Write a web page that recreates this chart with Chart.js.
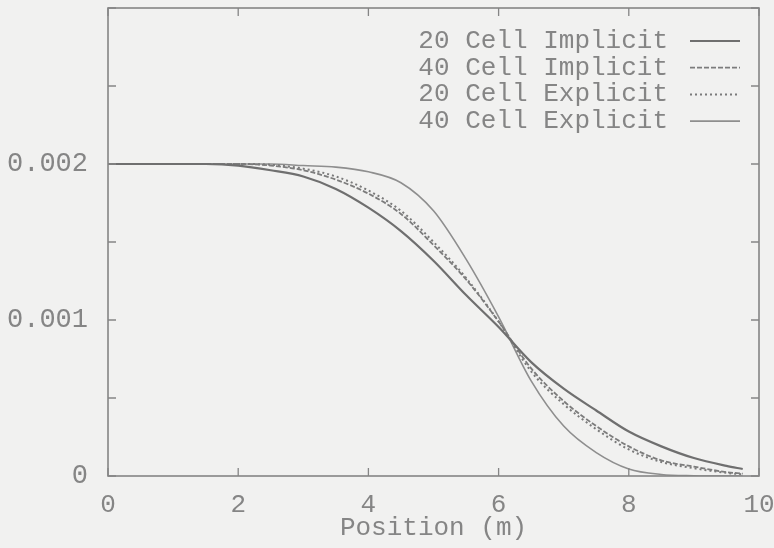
<!DOCTYPE html>
<html lang="en">
<head>
<meta charset="UTF-8">
<title>Position profile</title>
<script src="https://cdn.jsdelivr.net/npm/chart.js"></script>
<style>
  html, body { margin: 0; padding: 0; background: #f1f1f0; }
  #wrap { width: 774px; height: 548px; }
</style>
</head>
<body>
<div id="wrap"><canvas id="c" width="774" height="548"></canvas></div>
<script>
const positions = [0, 0.5, 1, 1.5, 2, 2.5, 3, 3.5, 4, 4.5, 5, 5.5, 6, 6.5, 7, 7.5, 8, 8.5, 9, 9.5, 9.75];

const implicit20 = [0.00200, 0.00200, 0.00200, 0.00200, 0.00199, 0.00196, 0.00192, 0.00184, 0.00172, 0.00157, 0.00138,
                    0.00116, 0.000955, 0.00073, 0.00056, 0.00042, 0.000285, 0.00019, 0.000115, 0.000065, 0.000045];
const implicit40 = [0.00200, 0.00200, 0.00200, 0.00200, 0.00200, 0.00199, 0.00196, 0.00190, 0.00181, 0.00168, 0.00148,
                    0.00126, 0.00099, 0.00069, 0.00048, 0.00032, 0.00019, 0.00010, 0.00006, 0.000025, 0.000015];
const explicit20 = [0.00200, 0.00200, 0.00200, 0.00200, 0.00200, 0.001995, 0.00197, 0.00192, 0.00183, 0.00170, 0.00150,
                    0.00127, 0.00099, 0.00067, 0.00046, 0.00030, 0.00017, 0.00009, 0.00005, 0.00002, 0.00001];
const explicit40 = [0.00200, 0.00200, 0.00200, 0.00200, 0.00200, 0.00200, 0.00199, 0.00198, 0.00195, 0.00188, 0.00170,
                    0.00139, 0.00102, 0.00061, 0.00032, 0.00015, 0.000045, 0.00001, 0.000002, 0, 0];

const seriesLabels = ['20 Cell Implicit', '40 Cell Implicit', '20 Cell Explicit', '40 Cell Explicit'];
const xTicks = [0, 2, 4, 6, 8, 10];
const yLabelled = [0, 0.001, 0.002];

const FONT = '"Liberation Mono", "DejaVu Sans Mono", monospace';
const INK = '#858585';

function pts(ys) {
  return positions.map((x, i) => ({ x: x, y: ys[i] }));
}

// frame, inward ticks and gnuplot-style legend (text then sample)
const gnuplotLook = {
  id: 'gnuplotLook',
  afterDatasetsDraw(chart) {
    const ctx = chart.ctx;
    const a = chart.chartArea;
    const xs = chart.scales.x, ys = chart.scales.y;
    ctx.save();
    ctx.strokeStyle = '#858585';
    ctx.lineWidth = 1.6;
    ctx.strokeRect(a.left, a.top, a.right - a.left, a.bottom - a.top);
    ctx.lineWidth = 1.3;
    ys.ticks.forEach(t => {
      const py = ys.getPixelForValue(t.value);
      ctx.beginPath();
      ctx.moveTo(a.left, py); ctx.lineTo(a.left + 8, py);
      ctx.moveTo(a.right, py); ctx.lineTo(a.right - 8, py);
      ctx.stroke();
    });
    xTicks.forEach(v => {
      const px = xs.getPixelForValue(v);
      ctx.beginPath();
      ctx.moveTo(px, a.bottom); ctx.lineTo(px, a.bottom - 8);
      ctx.moveTo(px, a.top); ctx.lineTo(px, a.top + 8);
      ctx.stroke();
    });

    // legend
    ctx.font = '26px ' + FONT;
    ctx.fillStyle = INK;
    ctx.textAlign = 'right';
    ctx.textBaseline = 'middle';
    const textRight = 668;
    chart.data.datasets.forEach((ds, i) => {
      const y = 41 + i * 26.7;
      ctx.fillText(ds.label, textRight, y);
      ctx.beginPath();
      ctx.strokeStyle = ds.borderColor;
      ctx.lineWidth = ds.borderWidth;
      ctx.setLineDash(ds.borderDash || []);
      ctx.moveTo(690, y);
      ctx.lineTo(740, y);
      ctx.stroke();
    });
    ctx.restore();
  }
};

new Chart(document.getElementById('c'), {
  type: 'line',
  data: {
    datasets: [
      { label: seriesLabels[0], data: pts(implicit20), borderColor: '#6f6f6f', borderWidth: 2.2, borderDash: [] },
      { label: seriesLabels[1], data: pts(implicit40), borderColor: '#7c7c7c', borderWidth: 1.8, borderDash: [5, 2] },
      { label: seriesLabels[2], data: pts(explicit20), borderColor: '#7a7a7a', borderWidth: 2, borderDash: [2, 3] },
      { label: seriesLabels[3], data: pts(explicit40), borderColor: '#8e8e8e', borderWidth: 1.6, borderDash: [] }
    ].map(d => Object.assign(d, { pointRadius: 0, fill: false, cubicInterpolationMode: 'monotone' }))
  },
  options: {
    responsive: false,
    animation: false,
    layout: { padding: { top: 8, right: 15, bottom: 4, left: 0 } },
    plugins: { legend: { display: false }, tooltip: { enabled: false } },
    scales: {
      x: {
        type: 'linear',
        min: 0, max: 10,
        afterBuildTicks: s => { s.ticks = xTicks.map(v => ({ value: v })); },
        afterFit: s => { s.height = 68; s.paddingLeft = 0; s.paddingRight = 0; },
        grid: { display: false },
        border: { display: false },
        ticks: { color: INK, font: { family: FONT, size: 26 }, padding: 6, maxRotation: 0 },
        title: { display: true, text: 'Position (m)', color: INK, font: { family: FONT, size: 26 }, padding: { top: 0, bottom: 0 } }
      },
      y: {
        min: 0, max: 0.003,
        afterBuildTicks: s => {
          const t = [];
          for (let k = 0; k <= 6; k++) t.push({ value: k * 0.0005 });
          s.ticks = t;
        },
        afterFit: s => { s.width = 108; s.paddingTop = 0; s.paddingBottom = 0; },
        grid: { display: false },
        border: { display: false },
        ticks: {
          color: INK,
          font: { family: FONT, size: 27 },
          padding: 12,
          callback: v => {
            const hit = yLabelled.find(l => Math.abs(l - v) < 1e-9);
            return hit === undefined ? '' : String(hit);
          }
        }
      }
    }
  },
  plugins: [gnuplotLook]
});
</script>
</body>
</html>
